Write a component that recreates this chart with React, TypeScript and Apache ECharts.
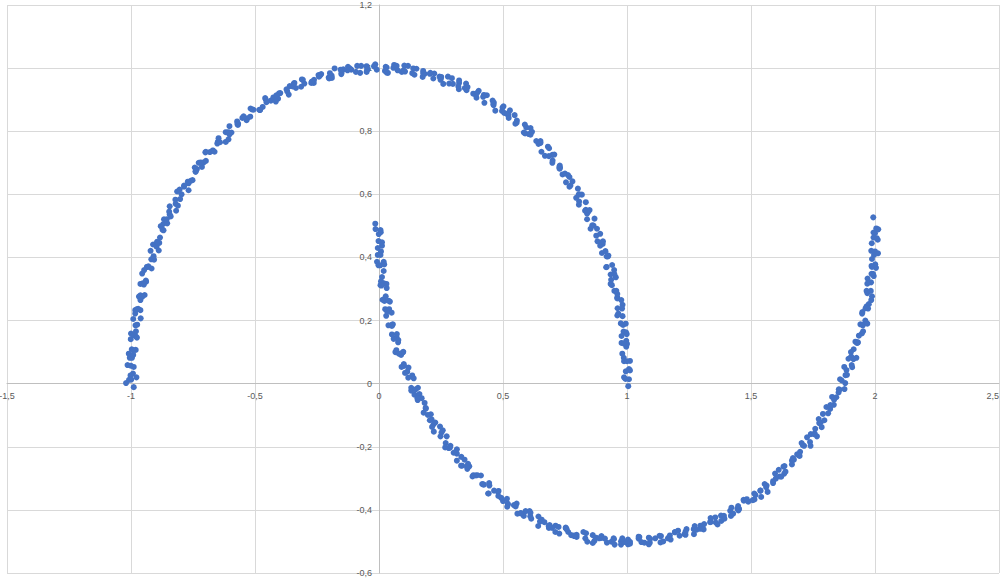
import React, { useEffect, useRef } from "react";
import * as echarts from "echarts";

// Upper moon points [x, y] (first pass along the arc)
const upperMoonA: number[][] = [
  [1.005,-0.008],[0.988,0.020],[1.008,0.046],[0.995,0.039],[1.012,0.072],[0.987,0.082],[0.997,0.117],[0.978,0.129],[0.997,0.136],[0.986,0.165],
  [0.996,0.163],[0.975,0.191],[0.982,0.214],[0.961,0.216],[0.982,0.250],[0.961,0.273],[0.961,0.270],[0.961,0.284],[0.939,0.312],[0.955,0.337],
  [0.936,0.329],[0.948,0.360],[0.918,0.370],[0.923,0.403],[0.899,0.414],[0.913,0.420],[0.897,0.447],[0.902,0.443],[0.876,0.469],[0.879,0.491],
  [0.853,0.491],[0.869,0.523],[0.843,0.544],[0.839,0.539],[0.834,0.551],[0.807,0.577],[0.818,0.599],[0.795,0.589],[0.802,0.618],[0.768,0.624],
  [0.768,0.655],[0.740,0.663],[0.750,0.666],[0.729,0.691],[0.730,0.684],[0.700,0.707],[0.699,0.725],[0.669,0.722],[0.681,0.751],[0.651,0.769],
  [0.643,0.760],[0.634,0.769],[0.604,0.791],[0.611,0.810],[0.584,0.796],[0.588,0.821],[0.550,0.824],[0.547,0.851],[0.515,0.855],[0.522,0.854],
  [0.498,0.875],[0.496,0.864],[0.462,0.883],[0.458,0.897],[0.425,0.890],[0.435,0.914],[0.402,0.928],[0.391,0.915],[0.380,0.919],[0.346,0.937],
  [0.351,0.951],[0.322,0.933],[0.323,0.953],[0.283,0.951],[0.278,0.973],[0.244,0.973],[0.249,0.967],[0.223,0.983],[0.219,0.967],[0.184,0.982],
  [0.178,0.991],[0.143,0.979],[0.151,0.998],[0.117,1.007],[0.105,0.989],[0.092,0.988],[0.058,1.001],[0.061,1.010],[0.031,0.986],[0.031,1.002],
  [-0.009,0.995],[-0.015,1.012],[-0.050,1.006],[-0.045,0.996],[-0.072,1.007],[-0.076,0.985],[-0.112,0.995],[-0.118,0.999],[-0.152,0.981],[-0.144,0.996],
  [-0.179,0.999],[-0.191,0.976],[-0.203,0.970],[-0.237,0.977],[-0.233,0.981],[-0.263,0.953],[-0.262,0.963],[-0.301,0.951],[-0.307,0.963],[-0.341,0.953],
  [-0.335,0.937],[-0.360,0.943],[-0.364,0.916],[-0.398,0.921],[-0.403,0.920],[-0.436,0.897],[-0.426,0.907],[-0.459,0.905],[-0.469,0.877],[-0.480,0.867],
  [-0.512,0.869],[-0.506,0.868],[-0.534,0.835],[-0.531,0.841],[-0.568,0.824],[-0.572,0.831],[-0.603,0.816],[-0.595,0.796],[-0.618,0.797],[-0.618,0.766],
  [-0.650,0.766],[-0.652,0.761],[-0.682,0.734],[-0.670,0.739],[-0.700,0.733],[-0.707,0.701],[-0.714,0.687],[-0.743,0.685],[-0.734,0.680],[-0.759,0.643],
  [-0.752,0.645],[-0.786,0.624],[-0.786,0.628],[-0.814,0.609],[-0.802,0.585],[-0.821,0.583],[-0.818,0.548],[-0.846,0.545],[-0.844,0.536],[-0.870,0.506],
  [-0.854,0.508],[-0.880,0.499],[-0.883,0.463],[-0.886,0.446],[-0.911,0.441],[-0.897,0.434],[-0.918,0.394],[-0.907,0.393],[-0.936,0.370],[-0.932,0.370],
  [-0.955,0.349],[-0.939,0.323],[-0.953,0.318],[-0.945,0.281],[-0.968,0.276],[-0.962,0.265],[-0.983,0.233],[-0.962,0.233],[-0.983,0.222],[-0.982,0.185],
  [-0.980,0.166],[-1.000,0.159],[-0.981,0.150],[-0.997,0.109],[-0.981,0.107],[-1.005,0.082],[-0.996,0.082],[-1.014,0.059],[-0.992,0.032],[-1.002,0.026],
  [-0.989,-0.011],[-1.020,0.002],[-0.978,0.020]
];

// Upper moon points [x, y] (second pass, between the first-pass points)
const upperMoonB: number[][] = [
  [1.008,0.014],[0.994,0.015],[1.012,0.042],[0.988,0.071],[1.000,0.071],[0.981,0.095],[1.000,0.126],[0.988,0.127],[0.999,0.157],[0.978,0.151],
  [0.984,0.186],[0.995,0.190],[0.965,0.222],[0.980,0.238],[0.962,0.239],[0.977,0.265],[0.949,0.294],[0.957,0.294],[0.934,0.316],[0.949,0.347],
  [0.934,0.346],[0.940,0.376],[0.916,0.369],[0.918,0.403],[0.925,0.406],[0.892,0.437],[0.903,0.451],[0.881,0.451],[0.892,0.475],[0.860,0.502],
  [0.865,0.501],[0.839,0.521],[0.849,0.550],[0.831,0.548],[0.834,0.575],[0.806,0.567],[0.805,0.599],[0.808,0.600],[0.772,0.628],[0.780,0.641],
  [0.754,0.638],[0.762,0.661],[0.727,0.686],[0.728,0.681],[0.699,0.700],[0.707,0.726],[0.685,0.721],[0.686,0.746],[0.655,0.735],[0.650,0.764],
  [0.651,0.763],[0.611,0.789],[0.617,0.798],[0.589,0.793],[0.594,0.812],[0.556,0.834],[0.555,0.827],[0.523,0.842],[0.528,0.866],[0.505,0.858],
  [0.502,0.879],[0.469,0.865],[0.463,0.891],[0.461,0.886],[0.420,0.909],[0.423,0.915],[0.393,0.906],[0.396,0.922],[0.357,0.940],[0.353,0.930],
  [0.320,0.942],[0.323,0.961],[0.298,0.950],[0.294,0.968],[0.259,0.950],[0.251,0.972],[0.248,0.963],[0.205,0.982],[0.207,0.985],[0.176,0.972],
  [0.178,0.984],[0.138,0.999],[0.134,0.984],[0.099,0.993],[0.102,1.008],[0.075,0.993],[0.071,1.007],[0.036,0.985],[0.027,1.004],[0.024,0.991],
  [-0.020,1.006],[-0.018,1.005],[-0.050,0.988],[-0.048,0.996],[-0.088,1.007],[-0.093,0.988],[-0.127,0.993],[-0.125,1.004],[-0.151,0.985],[-0.155,0.995],
  [-0.190,0.969],[-0.198,0.984],[-0.201,0.967],[-0.244,0.978],[-0.242,0.973],[-0.273,0.953],[-0.271,0.957],[-0.311,0.964],[-0.314,0.941],[-0.348,0.942],
  [-0.344,0.950],[-0.370,0.926],[-0.373,0.933],[-0.407,0.903],[-0.414,0.914],[-0.416,0.894],[-0.457,0.901],[-0.454,0.892],[-0.483,0.868],[-0.479,0.868],
  [-0.518,0.872],[-0.519,0.846],[-0.551,0.842],[-0.546,0.847],[-0.569,0.820],[-0.571,0.823],[-0.603,0.790],[-0.608,0.797],[-0.607,0.774],[-0.647,0.778],
  [-0.641,0.765],[-0.669,0.738],[-0.663,0.735],[-0.698,0.735],[-0.698,0.706],[-0.727,0.700],[-0.719,0.701],[-0.740,0.672],[-0.739,0.672],[-0.768,0.635],
  [-0.771,0.640],[-0.768,0.613],[-0.804,0.615],[-0.796,0.600],[-0.820,0.570],[-0.811,0.564],[-0.844,0.562],[-0.840,0.530],[-0.867,0.521],[-0.856,0.521],
  [-0.873,0.488],[-0.869,0.486],[-0.895,0.448],[-0.894,0.450],[-0.888,0.422],[-0.921,0.421],[-0.909,0.404],[-0.930,0.372],[-0.917,0.365],[-0.947,0.360],
  [-0.940,0.327],[-0.962,0.316],[-0.948,0.314],[-0.962,0.280],[-0.954,0.276],[-0.976,0.236],[-0.971,0.237],[-0.961,0.207],[-0.991,0.205],[-0.975,0.187],
  [-0.992,0.154],[-0.976,0.146],[-1.001,0.141],[-0.991,0.106],[-1.009,0.095],[-0.991,0.091],[-1.001,0.057],[-0.989,0.053],[-1.008,0.012],[-0.999,0.013]
];

// Lower moon points [x, y] (first pass)
const lowerMoonA: number[][] = [
  [-0.015,0.507],[0.007,0.480],[-0.001,0.474],[0.012,0.437],[-0.005,0.430],[0.008,0.419],[-0.008,0.386],[0.019,0.386],[0.005,0.375],[0.012,0.338],
  [0.020,0.318],[0.006,0.312],[0.031,0.303],[0.022,0.262],[0.044,0.260],[0.025,0.236],[0.041,0.236],[0.029,0.215],[0.056,0.188],[0.052,0.183],
  [0.071,0.147],[0.059,0.142],[0.077,0.131],[0.066,0.100],[0.098,0.101],[0.089,0.091],[0.101,0.056],[0.114,0.038],[0.105,0.034],[0.134,0.026],
  [0.130,-0.013],[0.157,-0.013],[0.143,-0.035],[0.163,-0.033],[0.156,-0.052],[0.188,-0.077],[0.189,-0.079],[0.212,-0.113],[0.205,-0.116],[0.227,-0.123],
  [0.221,-0.152],[0.257,-0.148],[0.252,-0.155],[0.269,-0.188],[0.286,-0.203],[0.281,-0.204],[0.314,-0.208],[0.314,-0.244],[0.345,-0.241],[0.335,-0.260],
  [0.359,-0.254],[0.356,-0.270],[0.391,-0.291],[0.396,-0.290],[0.423,-0.320],[0.419,-0.319],[0.445,-0.323],[0.442,-0.348],[0.482,-0.340],[0.480,-0.343],
  [0.500,-0.372],[0.520,-0.383],[0.519,-0.380],[0.555,-0.380],[0.558,-0.412],[0.591,-0.404],[0.584,-0.419],[0.611,-0.409],[0.610,-0.420],[0.649,-0.437],
  [0.656,-0.431],[0.685,-0.457],[0.684,-0.451],[0.712,-0.450],[0.711,-0.470],[0.753,-0.458],[0.753,-0.456],[0.775,-0.480],[0.797,-0.486],[0.797,-0.479],
  [0.835,-0.474],[0.840,-0.501],[0.875,-0.488],[0.869,-0.498],[0.897,-0.483],[0.898,-0.489],[0.937,-0.501],[0.946,-0.490],[0.976,-0.510],[0.976,-0.500],
  [1.004,-0.494],[1.004,-0.509],[1.047,-0.491],[1.047,-0.485],[1.070,-0.504],[1.092,-0.504],[1.093,-0.492],[1.131,-0.482],[1.135,-0.503],[1.170,-0.486],
  [1.165,-0.490],[1.193,-0.470],[1.193,-0.471],[1.232,-0.477],[1.240,-0.461],[1.270,-0.477],[1.269,-0.461],[1.296,-0.450],[1.296,-0.460],[1.338,-0.438],
  [1.337,-0.426],[1.358,-0.440],[1.380,-0.435],[1.379,-0.418],[1.416,-0.403],[1.419,-0.419],[1.452,-0.397],[1.445,-0.396],[1.471,-0.371],[1.470,-0.368],
  [1.507,-0.369],[1.513,-0.348],[1.541,-0.359],[1.538,-0.339],[1.563,-0.323],[1.561,-0.328],[1.600,-0.301],[1.597,-0.285],[1.616,-0.294],[1.634,-0.285],
  [1.631,-0.263],[1.665,-0.244],[1.665,-0.256],[1.696,-0.229],[1.686,-0.224],[1.709,-0.195],[1.704,-0.188],[1.738,-0.185],[1.741,-0.160],[1.766,-0.167],
  [1.759,-0.143],[1.781,-0.123],[1.775,-0.125],[1.811,-0.094],[1.804,-0.074],[1.819,-0.080],[1.834,-0.067],[1.827,-0.042],[1.857,-0.019],[1.853,-0.028],
  [1.880,0.002],[1.866,0.010],[1.885,0.043],[1.876,0.053],[1.906,0.059],[1.904,0.086],[1.925,0.082],[1.914,0.109],[1.931,0.131],[1.921,0.133],
  [1.952,0.166],[1.941,0.188],[1.951,0.185],[1.961,0.200],[1.949,0.227],[1.975,0.252],[1.966,0.245],[1.988,0.277],[1.969,0.287],[1.984,0.321],
  [1.970,0.333],[1.995,0.341],[1.988,0.370],[2.004,0.367],[1.988,0.395],[2.000,0.419],[1.985,0.421],[2.011,0.456],[1.994,0.479],[2.000,0.477],
  [2.005,0.492],[1.993,0.527]
];

// Lower moon points [x, y] (second pass)
const lowerMoonB: number[][] = [
  [-0.014,0.490],[0.006,0.487],[-0.002,0.452],[0.012,0.448],[-0.005,0.408],[0.006,0.408],[0.021,0.378],[-0.002,0.375],[0.019,0.357],[0.008,0.324],
  [0.030,0.316],[0.010,0.311],[0.027,0.277],[0.014,0.266],[0.038,0.263],[0.033,0.229],[0.051,0.225],[0.038,0.185],[0.053,0.187],[0.072,0.157],
  [0.052,0.156],[0.078,0.138],[0.070,0.106],[0.096,0.099],[0.080,0.095],[0.100,0.062],[0.091,0.053],[0.119,0.051],[0.118,0.019],[0.140,0.017],
  [0.130,-0.022],[0.148,-0.018],[0.172,-0.046],[0.155,-0.046],[0.184,-0.061],[0.180,-0.092],[0.209,-0.097],[0.197,-0.099],[0.220,-0.129],[0.214,-0.137],
  [0.246,-0.136],[0.248,-0.167],[0.273,-0.167],[0.267,-0.202],[0.288,-0.197],[0.314,-0.222],[0.301,-0.219],[0.332,-0.232],[0.331,-0.260],[0.364,-0.262],
  [0.354,-0.262],[0.381,-0.290],[0.377,-0.294],[0.411,-0.291],[0.416,-0.318],[0.444,-0.315],[0.440,-0.348],[0.464,-0.339],[0.493,-0.362],[0.481,-0.356],
  [0.516,-0.365],[0.517,-0.390],[0.551,-0.389],[0.544,-0.385],[0.572,-0.410],[0.571,-0.411],[0.607,-0.404],[0.614,-0.428],[0.643,-0.421],[0.642,-0.451],
  [0.667,-0.439],[0.698,-0.457],[0.688,-0.448],[0.724,-0.454],[0.727,-0.475],[0.763,-0.470],[0.757,-0.462],[0.787,-0.483],[0.787,-0.481],[0.824,-0.470],
  [0.832,-0.490],[0.862,-0.480],[0.862,-0.505],[0.888,-0.490],[0.919,-0.504],[0.911,-0.491],[0.947,-0.493],[0.950,-0.510],[0.987,-0.502],[0.981,-0.490],
  [1.012,-0.507],[1.012,-0.501],[1.050,-0.486],[1.058,-0.502],[1.088,-0.488],[1.088,-0.509],[1.114,-0.490],[1.146,-0.500],[1.137,-0.483],[1.173,-0.481],
  [1.176,-0.494],[1.212,-0.482],[1.206,-0.466],[1.236,-0.479],[1.236,-0.469],[1.273,-0.451],[1.281,-0.463],[1.311,-0.445],[1.309,-0.462],[1.335,-0.439],
  [1.365,-0.446],[1.356,-0.424],[1.391,-0.419],[1.393,-0.428],[1.428,-0.412],[1.421,-0.393],[1.449,-0.402],[1.448,-0.388],[1.483,-0.366],[1.489,-0.374],
  [1.518,-0.353],[1.514,-0.367],[1.538,-0.339],[1.567,-0.343],[1.555,-0.318],[1.589,-0.309],[1.589,-0.315],[1.622,-0.295],[1.612,-0.273],[1.639,-0.279],
  [1.635,-0.261],[1.669,-0.236],[1.673,-0.241],[1.698,-0.216],[1.693,-0.227],[1.714,-0.197],[1.740,-0.197],[1.726,-0.170],[1.757,-0.158],[1.754,-0.160],
  [1.785,-0.138],[1.773,-0.112],[1.796,-0.116],[1.790,-0.096],[1.820,-0.068],[1.821,-0.070],[1.844,-0.043],[1.835,-0.051],[1.854,-0.018],[1.877,-0.017],
  [1.859,0.014],[1.887,0.028],[1.881,0.027],[1.908,0.052],[1.893,0.079],[1.913,0.078],[1.903,0.100],[1.930,0.130],[1.927,0.129],[1.947,0.159],
  [1.935,0.152],[1.949,0.187],[1.969,0.190],[1.948,0.222],[1.972,0.238],[1.962,0.239],[1.985,0.265],[1.966,0.294],[1.983,0.294],[1.969,0.317],
  [1.992,0.348],[1.986,0.348],[2.001,0.378],[1.986,0.373],[1.996,0.408],[2.012,0.413],[1.987,0.445],[2.007,0.461],[1.994,0.463],[2.013,0.489]
];

const xTicks = { min: -1.5, max: 2.5, step: 0.5 };
const yTicks = { min: -0.6, max: 1.2, step: 0.2 };

const fmt = (v: number) => {
  const r = Math.round(v * 10) / 10;
  return String(r).replace(".", ",");
};

export default function App() {
  const ref = useRef<HTMLDivElement>(null);
  useEffect(() => {
    if (!ref.current) return;
    const chart = echarts.init(ref.current, undefined, { renderer: "svg" });
    const labelStyle = {
      color: "#595959",
      fontSize: 9,
      fontFamily: "Liberation Sans, Arial, sans-serif",
    };
    const axisLineStyle = { color: "#bfbfbf", width: 1 };
    const splitStyle = { color: "#d9d9d9", width: 1 };
    const markerStyle = { color: "#4472C4", opacity: 1 };
    chart.setOption({
      animation: false,
      backgroundColor: "#ffffff",
      grid: { left: 7, right: 4, top: 5, bottom: 5, containLabel: false, outerBoundsMode: "none" },
      xAxis: {
        type: "value",
        min: xTicks.min,
        max: xTicks.max,
        interval: xTicks.step,
        axisLine: { show: true, onZero: false, lineStyle: axisLineStyle },
        axisTick: { show: false },
        splitLine: { show: true, lineStyle: splitStyle },
        axisLabel: {
          ...labelStyle,
          formatter: fmt,
          margin: 8,
          showMinLabel: true,
          showMaxLabel: true,
          alignMaxLabel: "right",
        },
      },
      yAxis: {
        type: "value",
        min: yTicks.min,
        max: yTicks.max,
        interval: yTicks.step,
        axisLine: { show: true, onZero: false, lineStyle: axisLineStyle },
        axisTick: { show: false },
        splitLine: { show: true, lineStyle: splitStyle },
        axisLabel: { ...labelStyle, formatter: fmt, margin: 7, showMinLabel: true, showMaxLabel: true },
      },
      series: [
        {
          type: "scatter",
          data: upperMoonA.concat(upperMoonB),
          symbol: "circle",
          symbolSize: 6,
          itemStyle: markerStyle,
        },
        {
          type: "scatter",
          data: lowerMoonA.concat(lowerMoonB),
          symbol: "circle",
          symbolSize: 6,
          itemStyle: markerStyle,
        },
      ],
    });
    // move both axes (with their labels) onto the zero lines, using the chart's own scales
    const origin = chart.convertToPixel({ gridIndex: 0 }, [0, 0]) as number[];
    const corner = chart.convertToPixel({ gridIndex: 0 }, [xTicks.min, yTicks.min]) as number[];
    if (origin && corner) {
      chart.setOption({
        xAxis: { offset: origin[1] - corner[1] },
        yAxis: { offset: corner[0] - origin[0] },
      });
    }
    return () => chart.dispose();
  }, []);
  return (
    <div
      ref={ref}
      style={{ position: "fixed", left: 0, top: 0, width: 1003, height: 578 }}
    />
  );
}
